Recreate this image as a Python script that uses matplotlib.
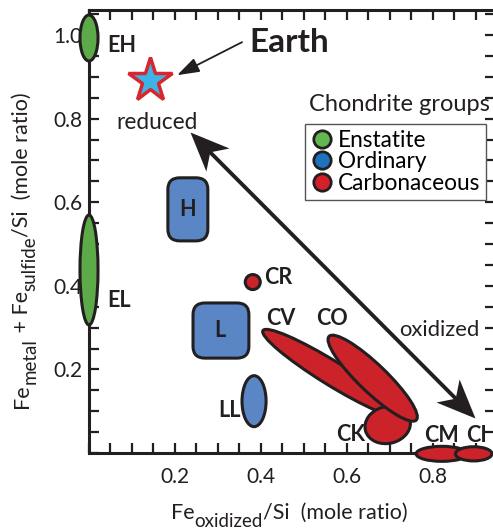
import matplotlib
matplotlib.use('Agg')
import matplotlib.pyplot as plt
from matplotlib.patches import Ellipse, FancyBboxPatch
from matplotlib.lines import Line2D
from matplotlib.markers import MarkerStyle
from matplotlib.path import Path
from matplotlib.transforms import Affine2D, offset_copy
from matplotlib.ticker import MultipleLocator
import numpy as np

plt.rcParams['font.family'] = ['Lato', 'DejaVu Sans']

# chondrite groups: Fe oxidized/Si (x) vs Fe metal+sulfide/Si (y)
names = ['EH', 'EL', 'H', 'L', 'LL', 'CR', 'CV', 'CO', 'CK', 'CM', 'CI']
kinds = ['E', 'E', 'O', 'O', 'O', 'C', 'C', 'C', 'C', 'C', 'C']
shapes = ['ell', 'ell', 'box', 'box', 'ell', 'ell', 'ell', 'ell', 'ell', 'ell', 'ell']
cx = [0.000, 0.000, 0.230, 0.307, 0.384, 0.381, 0.565, 0.660, 0.695, 0.821, 0.895]
cy = [0.993, 0.438, 0.583, 0.293, 0.124, 0.409, 0.191, 0.179, 0.067, -0.002, -0.002]
wd = [0.042, 0.042, 0.093, 0.130, 0.056, 0.035, 0.380, 0.285, 0.107, 0.120, 0.085]
ht = [0.110, 0.263, 0.151, 0.132, 0.122, 0.036, 0.057, 0.066, 0.088, 0.036, 0.034]
ang = [0, 0, 0, 0, 0, 0, -32.5, -44.7, 15, 0, 0]
order = [0, 1, 2, 3, 4, 5, 6, 8, 7, 9, 10]

# label positions (x, y) for each group name
lab_x = [0.042, 0.042, 0.230, 0.305, 0.353, 0.408, 0.447, 0.566, 0.609, 0.819, 0.902]
lab_y = [0.974, 0.366, 0.582, 0.294, 0.102, 0.419, 0.321, 0.321, 0.045, 0.043, 0.043]
lab_ha = ['left', 'left', 'center', 'center', 'right', 'left', 'center', 'center',
          'center', 'center', 'center']

earth = (0.142, 0.892)
earth_arrow = [(0.356, 0.983), (0.205, 0.904)]
trend = [(0.898, 0.084), (0.235, 0.768)]

fill = {'E': '#5dab48', 'O': '#5b86c6', 'C': '#cc2229'}
legend_fill = {'E': '#63b750', 'O': '#1f73be', 'C': '#d22128'}
legend_names = {'E': 'Enstatite', 'O': 'Ordinary', 'C': 'Carbonaceous'}
ink = '#231f20'

fig = plt.figure(figsize=(4.93, 5.29), dpi=100)
ax = fig.add_axes([89 / 493, 76 / 529, 406 / 493, 443 / 529])
ax.set_xlim(0, 0.9446)
ax.set_ylim(0, 1.06)

for i in order:
    if shapes[i] == 'box':
        r = 0.028
        p = FancyBboxPatch((cx[i] - wd[i] / 2 + r, cy[i] - ht[i] / 2 + r),
                           wd[i] - 2 * r, ht[i] - 2 * r,
                           boxstyle='round,pad=%g,rounding_size=%g' % (r, r),
                           fc=fill[kinds[i]], ec=ink, lw=2.2, zorder=3)
    else:
        p = Ellipse((cx[i], cy[i]), wd[i], ht[i], angle=ang[i],
                    fc=fill[kinds[i]], ec=ink, lw=2.2, zorder=3)
    p.set_clip_on(False)
    ax.add_patch(p)

for i, n in enumerate(names):
    ax.text(lab_x[i], lab_y[i], n, ha=lab_ha[i], va='center', fontsize=15.5,
            fontweight='bold', color=ink, zorder=5)

# Earth
ax.plot(*earth, marker='*', ms=33, mfc='#3cb4e8', mec='#d7262d', mew=2.5,
        zorder=6, clip_on=False)
ax.text(0.374, 0.983, 'Earth', fontsize=24, fontweight='bold', va='center',
        ha='left', color=ink)
ax.annotate('', xy=earth_arrow[1], xytext=earth_arrow[0],
            arrowprops=dict(arrowstyle='-|>,head_length=0.9,head_width=0.3',
                            mutation_scale=15, lw=1.3, color=ink,
                            shrinkA=0, shrinkB=0))

# reduced <-> oxidized trend, thick line with stealth heads at both ends
(x0, y0), (x1, y1) = trend
ax.annotate('', xy=(x1, y1), xytext=(x0, y0),
            arrowprops=dict(arrowstyle='-', lw=2.8, color=ink,
                            shrinkA=14, shrinkB=14), zorder=4)
stealth = Path([(0, 0), (-1, 0.42), (-0.72, 0), (-1, -0.42), (0, 0)],
               [Path.MOVETO, Path.LINETO, Path.LINETO, Path.LINETO, Path.CLOSEPOLY])
d0, d1 = ax.transData.transform([(x0, y0), (x1, y1)])
theta = np.degrees(np.arctan2(d1[1] - d0[1], d1[0] - d0[0]))
for (hx, hy), a in [((x1, y1), theta), ((x0, y0), theta + 180)]:
    m = MarkerStyle(stealth, transform=Affine2D().rotate_deg(a))
    ax.plot(hx, hy, marker=m, ms=56, color=ink, mew=0, zorder=4, clip_on=False)

ax.text(0.158, 0.79, 'reduced', fontsize=16.3, ha='center', va='center', color=ink)
ax.text(0.814, 0.294, 'oxidized', fontsize=15.8, ha='center', va='center', color=ink)

# legend
ax.text(0.542, 0.764, 'Chondrite groups', fontsize=17, ha='left', va='bottom',
        color=ink, transform=ax.transAxes)
handles = [Line2D([], [], ls='none', marker='o', ms=12.5, mfc=legend_fill[k],
                  mec=ink, mew=2.0, label=legend_names[k]) for k in 'EOC']
leg = ax.legend(handles=handles, loc='upper left', bbox_to_anchor=(0.532, 0.742),
                borderaxespad=0, fancybox=False, frameon=True, fontsize=16.3,
                handletextpad=0.2, handlelength=1.0, labelspacing=0.02,
                borderpad=0.25, edgecolor='#555555', framealpha=1)
leg.get_frame().set_linewidth(1.0)
leg.set_zorder(7)

# axes styling
for s in ax.spines.values():
    s.set_linewidth(2.2)
    s.set_color(ink)
ax.xaxis.set_minor_locator(MultipleLocator(0.05))
ax.yaxis.set_minor_locator(MultipleLocator(0.05))
ax.tick_params(which='both', direction='in', top=True, right=True,
               length=7, width=1.6, color=ink, labelsize=15, labelcolor=ink)
ax.tick_params(axis='x', pad=10)
ax.tick_params(axis='y', pad=5)
ax.set_xticks([0.2, 0.4, 0.6, 0.8])
ax.set_xticklabels(['0.2', '0.4', '0.6', '0.8'])
ax.set_yticks([0.2, 0.4, 0.6, 0.8, 1.0])
ax.set_yticklabels(['0.2', '0.4', '0.6', '0.8', '1.0'])


def rich_label(x, y, pieces, rotation=0):
    """Write text pieces (text, size, baseline shift in pt) one after another,
    centred on (x, y) in figure coordinates."""
    rend = fig.canvas.get_renderer()
    items = []
    for s, size, shift in pieces:
        t = fig.text(x, y, s, fontsize=size, rotation=rotation,
                     rotation_mode='anchor', ha='left', va='baseline', color=ink)
        bb = t.get_window_extent(rend)
        items.append((t, bb.width if rotation == 0 else bb.height, shift))
    pos = -sum(L for _, L, _ in items) / 2
    for t, L, shift in items:
        sh = shift * fig.dpi / 72
        dx, dy = (pos, sh) if rotation == 0 else (-sh, pos)
        t.set_transform(offset_copy(fig.transFigure, fig=fig, x=dx, y=dy,
                                    units='dots'))
        pos += L


rich_label(289 / 493, 10 / 529,
           [('Fe', 15.5, 0), ('oxidized', 13.5, -5.5), ('/Si  (mole ratio)', 15.5, 0)])
rich_label(28 / 493, 279 / 529,
           [('Fe', 15.5, 0), ('metal', 13.5, -5.5), (' + Fe', 15.5, 0),
            ('sulfide', 13.5, -5.5), ('/Si  (mole ratio)', 15.5, 0)], rotation=90)

fig.savefig('out.png', dpi=100)
